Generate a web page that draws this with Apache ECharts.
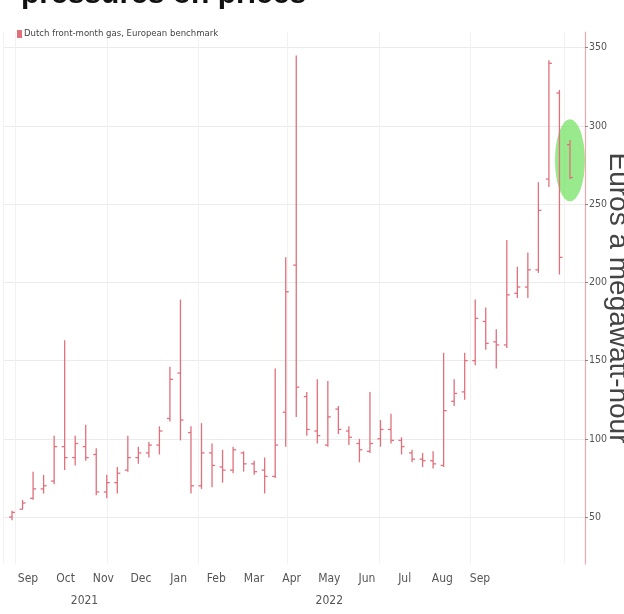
<!DOCTYPE html>
<html>
<head>
<meta charset="utf-8">
<script src="https://cdn.jsdelivr.net/npm/echarts@6/dist/echarts.min.js"></script>
<style>
html, body { margin: 0; padding: 0; background: #ffffff; }
#chart { width: 624px; height: 614px; }
</style>
</head>
<body>
<div id="chart"></div>
<script>
// Weekly Dutch TTF front-month gas prices (euros per MWh), week starting Monday
const weekStarts = [
  '2021-08-30', '2021-09-06', '2021-09-13', '2021-09-20', '2021-09-27',
  '2021-10-04', '2021-10-11', '2021-10-18', '2021-10-25', '2021-11-01',
  '2021-11-08', '2021-11-15', '2021-11-22', '2021-11-29', '2021-12-06',
  '2021-12-13', '2021-12-20', '2021-12-27', '2022-01-03', '2022-01-10',
  '2022-01-17', '2022-01-24', '2022-01-31', '2022-02-07', '2022-02-14',
  '2022-02-21', '2022-02-28', '2022-03-07', '2022-03-14', '2022-03-21',
  '2022-03-28', '2022-04-04', '2022-04-11', '2022-04-18', '2022-04-25',
  '2022-05-02', '2022-05-09', '2022-05-16', '2022-05-23', '2022-05-30',
  '2022-06-06', '2022-06-13', '2022-06-20', '2022-06-27', '2022-07-04',
  '2022-07-11', '2022-07-18', '2022-07-25', '2022-08-01', '2022-08-08',
  '2022-08-15', '2022-08-22', '2022-08-29', '2022-09-05'
];
const openVals  = [50, 55, 62, 68, 73, 95, 88, 95, 90, 66, 72, 80, 88, 91, 96, 113, 142, 104, 70, 91, 82, 80, 91, 84, 80, 76, 117, 211, 127, 105, 96, 119, 105, 97, 92, 100, 106, 99, 91, 87, 86, 83, 124, 130, 150, 175, 162, 160, 193, 197, 208, 266, 321, 288];
const highVals  = [54, 61, 79, 77, 102, 163, 102, 109, 94, 77, 82, 102, 95, 98, 108, 146, 189, 108, 110, 97, 93, 95, 92, 86, 88, 145, 216, 345, 130, 138, 137, 121, 108, 100, 130, 112, 116, 101, 93, 91, 92, 155, 138, 155, 189, 184, 170, 227, 210, 219, 264, 342, 323, 291];
const lowVals   = [48, 55, 61, 65, 71, 80, 83, 86, 64, 62, 65, 79, 84, 88, 90, 111, 99, 65, 68, 69, 72, 78, 79, 77, 65, 75, 95, 114, 102, 97, 95, 103, 96, 85, 91, 95, 97, 90, 85, 82, 81, 82, 121, 125, 147, 157, 145, 158, 190, 190, 206, 261, 205, 266];
const closeVals = [53, 59, 68, 70, 95, 88, 97, 88, 66, 72, 78, 88, 91, 96, 105, 138, 112, 70, 91, 83, 80, 93, 84, 79, 76, 96, 194, 133, 106, 102, 114, 106, 101, 93, 97, 106, 99, 95, 87, 86, 84, 118, 129, 150, 177, 161, 160, 192, 197, 208, 246, 340, 216, 267];

// Axis text
const monthLabels = ['Sep', 'Oct', 'Nov', 'Dec', 'Jan', 'Feb', 'Mar', 'Apr', 'May', 'Jun', 'Jul', 'Aug', 'Sep'];
const yearLabels = ['2021', '2022'];
const priceTicks = [50, 100, 150, 200, 250, 300, 350];
const seriesName = 'Dutch front-month gas, European benchmark';
const axisTitle = 'Euros a megawatt-hour';
const headline = 'pressures on prices';

// Latest week, circled
const highlightWeek = '2022-09-05';
const highlightValue = 278;

const barColor = '#e0707c';
const narrowFont = "'Liberation Sans Narrow', 'DejaVu Sans Condensed', 'Liberation Sans', sans-serif";

const ohlcData = weekStarts.map((d, i) => [d, openVals[i], highVals[i], lowVals[i], closeVals[i]]);

// Half-month slots for the label row: months on even slots, years under chosen slots
const halfSlots = [];
monthLabels.forEach((m, i) => {
  halfSlots.push(m);
  if (i < monthLabels.length - 1) halfSlots.push('');
});
const yearSlots = halfSlots.map(() => '');
yearSlots[3] = yearLabels[0];
yearSlots[16] = yearLabels[1];

function renderOHLC(params, api) {
  const x = api.value(0);
  const o = api.coord([x, api.value(1)]);
  const h = api.coord([x, api.value(2)]);
  const l = api.coord([x, api.value(3)]);
  const c = api.coord([x, api.value(4)]);
  const w = 3;
  const style = { stroke: barColor, lineWidth: 1.3 };
  return {
    type: 'group',
    children: [
      { type: 'line', shape: { x1: h[0], y1: h[1], x2: l[0], y2: l[1] }, style: style },
      { type: 'line', shape: { x1: o[0] - w, y1: o[1], x2: o[0], y2: o[1] }, style: style },
      { type: 'line', shape: { x1: c[0], y1: c[1], x2: c[0] + w, y2: c[1] }, style: style }
    ]
  };
}

const chart = echarts.init(document.getElementById('chart'), null, { renderer: 'canvas' });

chart.setOption({
  animation: false,
  backgroundColor: '#ffffff',
  title: {
    text: headline,
    left: 16,
    top: -25,
    textStyle: { fontSize: 30, fontWeight: 'bold', color: '#111', fontFamily: "'Liberation Sans', sans-serif" }
  },
  legend: {
    data: [seriesName],
    left: 12,
    top: 24,
    icon: 'rect',
    itemWidth: 5,
    itemHeight: 8,
    itemGap: 4,
    textStyle: { fontSize: 9.5, color: '#444', fontFamily: narrowFont, padding: [0, 0, 0, -3] }
  },
  grid: [
    { left: 3, right: 39, top: 32, bottom: 50, outerBoundsMode: 'none' },
    { left: 28, right: 144, top: 32, bottom: 50, outerBoundsMode: 'none' }
  ],
  xAxis: [
    {
      type: 'time',
      gridIndex: 0,
      min: '2021-08-24',
      max: '2022-09-15',
      axisLine: { show: false },
      axisTick: { show: false },
      axisLabel: { show: false },
      splitLine: { show: true, lineStyle: { color: '#f1f1f1', width: 1 } }
    },
    {
      type: 'category',
      gridIndex: 1,
      data: halfSlots,
      boundaryGap: false,
      axisLine: { show: false },
      axisTick: { show: false },
      splitLine: { show: false },
      axisLabel: { interval: 0, margin: 9, fontSize: 12, color: '#555', fontFamily: narrowFont }
    },
    {
      type: 'category',
      gridIndex: 1,
      position: 'bottom',
      offset: 22,
      data: yearSlots,
      boundaryGap: false,
      axisLine: { show: false },
      axisTick: { show: false },
      splitLine: { show: false },
      axisLabel: { interval: 0, margin: 9, fontSize: 12, color: '#555', fontFamily: narrowFont }
    }
  ],
  yAxis: [
    {
      type: 'value',
      gridIndex: 0,
      position: 'right',
      min: 20,
      max: 360,
      interval: 10,
      name: axisTitle,
      nameLocation: 'middle',
      nameRotate: -90,
      nameGap: 19,
      nameMoveOverlap: false,
      nameTextStyle: { fontSize: 28, color: '#444', fontFamily: "'Liberation Sans', sans-serif" },
      axisLine: { show: true, lineStyle: { color: '#f2a6ae', width: 1.2 } },
      axisTick: { show: true, customValues: priceTicks, length: 3, lineStyle: { color: '#888', width: 1 } },
      axisLabel: {
        margin: 4,
        fontSize: 10.5,
        color: '#555',
        fontFamily: narrowFont,
        customValues: priceTicks
      },
      splitLine: { show: true, lineStyle: { color: '#ebebeb', width: 1 } }
    },
    {
      type: 'value',
      gridIndex: 1,
      show: false
    }
  ],
  series: [
    {
      name: 'highlight',
      type: 'scatter',
      xAxisIndex: 0,
      yAxisIndex: 0,
      z: 1,
      symbol: 'circle',
      symbolSize: [30, 82],
      itemStyle: { color: 'rgba(112, 226, 96, 0.9)' },
      data: [[highlightWeek, highlightValue]],
      silent: true
    },
    {
      name: seriesName,
      type: 'custom',
      xAxisIndex: 0,
      yAxisIndex: 0,
      z: 3,
      itemStyle: { color: barColor },
      renderItem: renderOHLC,
      encode: { x: 0, y: [1, 2, 3, 4] },
      data: ohlcData
    }
  ]
});
</script>
</body>
</html>
